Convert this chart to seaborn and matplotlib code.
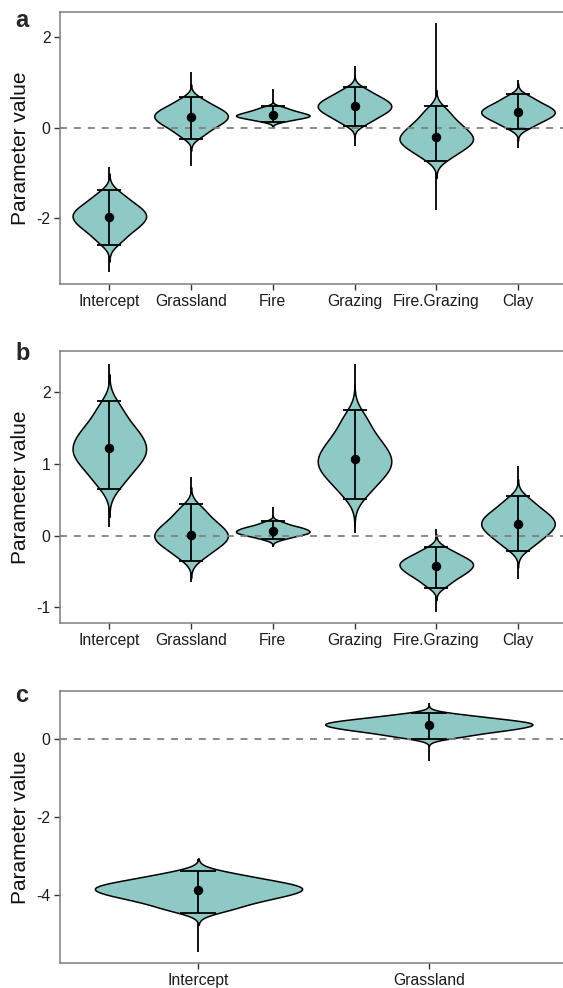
import numpy as np
import pandas as pd
import matplotlib
matplotlib.use("Agg")
import matplotlib.pyplot as plt
import seaborn as sns

# ---------------- data ----------------
params6 = ["Intercept", "Grassland", "Fire", "Grazing", "Fire.Grazing", "Clay"]
params2 = ["Intercept", "Grassland"]

# panel a
a_mean = [-1.97, 0.24, 0.28, 0.47, -0.21, 0.34]
a_lo = [-2.60, -0.24, 0.12, 0.04, -0.73, -0.04]
a_hi = [-1.39, 0.68, 0.48, 0.91, 0.48, 0.75]
a_min = [-3.20, -0.84, 0.00, -0.41, -1.82, -0.44]
a_max = [-0.86, 1.24, 0.85, 1.36, 2.31, 1.06]
a_draws = [
    [-2.50, -2.30, -2.19, -2.09, -2.01, -1.93, -1.86, -1.77, -1.66, -1.48],
    [-0.16, -0.01, 0.08, 0.15, 0.21, 0.27, 0.33, 0.39, 0.47, 0.61],
    [0.15, 0.20, 0.23, 0.25, 0.27, 0.29, 0.32, 0.35, 0.39, 0.45],
    [0.11, 0.24, 0.32, 0.39, 0.44, 0.50, 0.56, 0.62, 0.70, 0.83],
    [-0.65, -0.49, -0.39, -0.31, -0.24, -0.17, -0.07, 0.03, 0.16, 0.37],
    [0.02, 0.14, 0.21, 0.27, 0.32, 0.37, 0.42, 0.48, 0.56, 0.68],
]

# panel b
b_mean = [1.22, 0.01, 0.06, 1.06, -0.42, 0.16]
b_lo = [0.64, -0.35, -0.055, 0.51, -0.73, -0.21]
b_hi = [1.87, 0.435, 0.20, 1.74, -0.16, 0.555]
b_min = [0.125, -0.64, -0.16, 0.03, -1.06, -0.60]
b_max = [2.38, 0.82, 0.40, 2.39, 0.09, 0.97]
b_draws = [
    [0.73, 0.91, 1.02, 1.11, 1.18, 1.26, 1.35, 1.44, 1.56, 1.77],
    [-0.29, -0.18, -0.11, -0.06, -0.01, 0.04, 0.09, 0.16, 0.24, 0.37],
    [-0.04, 0.00, 0.02, 0.04, 0.05, 0.07, 0.09, 0.11, 0.13, 0.18],
    [0.60, 0.77, 0.87, 0.95, 1.03, 1.10, 1.19, 1.29, 1.42, 1.63],
    [-0.68, -0.58, -0.53, -0.48, -0.44, -0.40, -0.37, -0.33, -0.28, -0.20],
    [-0.15, -0.04, 0.03, 0.09, 0.14, 0.19, 0.24, 0.30, 0.37, 0.49],
]

# panel c
c_mean = [-3.87, 0.35]
c_lo = [-4.45, 0.00]
c_hi = [-3.39, 0.65]
c_min = [-5.46, -0.56]
c_max = [-3.09, 0.92]
c_draws = [
    [-4.36, -4.18, -4.07, -3.98, -3.91, -3.84, -3.78, -3.71, -3.62, -3.47],
    [0.06, 0.17, 0.23, 0.28, 0.33, 0.37, 0.41, 0.45, 0.51, 0.60],
]

a_yticks = [-2, 0, 2]
b_yticks = [-1, 0, 1, 2]
c_yticks = [-4, -2, 0]

# ---------------- style ----------------
sns.set_style("ticks")
plt.rcParams["font.family"] = ["Liberation Sans", "DejaVu Sans"]
plt.rcParams["lines.scale_dashes"] = False

FILL = "#8FC9C5"
SPINE = "#7F7F7F"

W, H = 563, 988
fig = plt.figure(figsize=(W / 100, H / 100), dpi=100)


def px_axes(left, right, top, bottom):
    return fig.add_axes([left / W, 1 - bottom / H, (right - left) / W, (bottom - top) / H])


def panel(ax, params, mean, lo, hi, mn, mx, draws, ylim, yticks, cap_pt, letter, letter_y):
    rows = []
    for p, d in zip(params, draws):
        for v in d:
            rows.append((p, v))
    df = pd.DataFrame(rows, columns=["param", "value"])

    pos = np.arange(len(params))
    ax.vlines(pos, mn, mx, color="black", lw=1.3, zorder=0.5)
    sns.violinplot(data=df, x="param", y="value", order=params, color=FILL,
                   saturation=1, linecolor="black", linewidth=1.1, inner=None,
                   density_norm="width", width=0.9, cut=3, bw_adjust=0.8, ax=ax)
    ax.axhline(0, color="#808080", lw=1.3, ls=(0, (5, 5)), zorder=2)
    mean_a = np.array(mean)
    ax.errorbar(pos, mean_a, yerr=[mean_a - np.array(lo), np.array(hi) - mean_a],
                fmt="none", ecolor="black", elinewidth=1.3, capsize=cap_pt,
                capthick=1.3, zorder=3)
    ax.plot(pos, mean_a, "o", color="black", markersize=5.8, zorder=4)

    ax.set_xlim(-0.6, len(params) - 0.4)
    ax.set_ylim(*ylim)
    ax.set_yticks(yticks)
    ax.set_yticklabels([str(t) for t in yticks])
    ax.set_xlabel("")
    ax.set_ylabel("Parameter value", fontsize=15, color="#111111")
    ax.yaxis.set_label_coords(-0.060, 0.5)
    for s in ax.spines.values():
        s.set_color(SPINE)
        s.set_linewidth(1.1)
    ax.tick_params(axis="both", length=4, width=1.0, color="#333333",
                   labelsize=11.3, labelcolor="#1a1a1a", pad=3)
    fig.text(15 / W, 1 - letter_y / H, letter, fontsize=17, fontweight="bold",
             va="baseline", ha="left")


ax_a = px_axes(60.3, 567, 12, 284)
panel(ax_a, params6, a_mean, a_lo, a_hi, a_min, a_max, a_draws,
      (-3.46, 2.56), a_yticks, 8.9, "a", 27)

ax_b = px_axes(60.3, 567, 351.3, 623.3)
panel(ax_b, params6, b_mean, b_lo, b_hi, b_min, b_max, b_draws,
      (-1.22, 2.56), b_yticks, 8.9, "b", 360)

ax_c = px_axes(60.3, 567, 691, 963.3)
panel(ax_c, params2, c_mean, c_lo, c_hi, c_min, c_max, c_draws,
      (-5.75, 1.22), c_yticks, 13.0, "c", 701.7)

fig.savefig("out.png", dpi=100)
